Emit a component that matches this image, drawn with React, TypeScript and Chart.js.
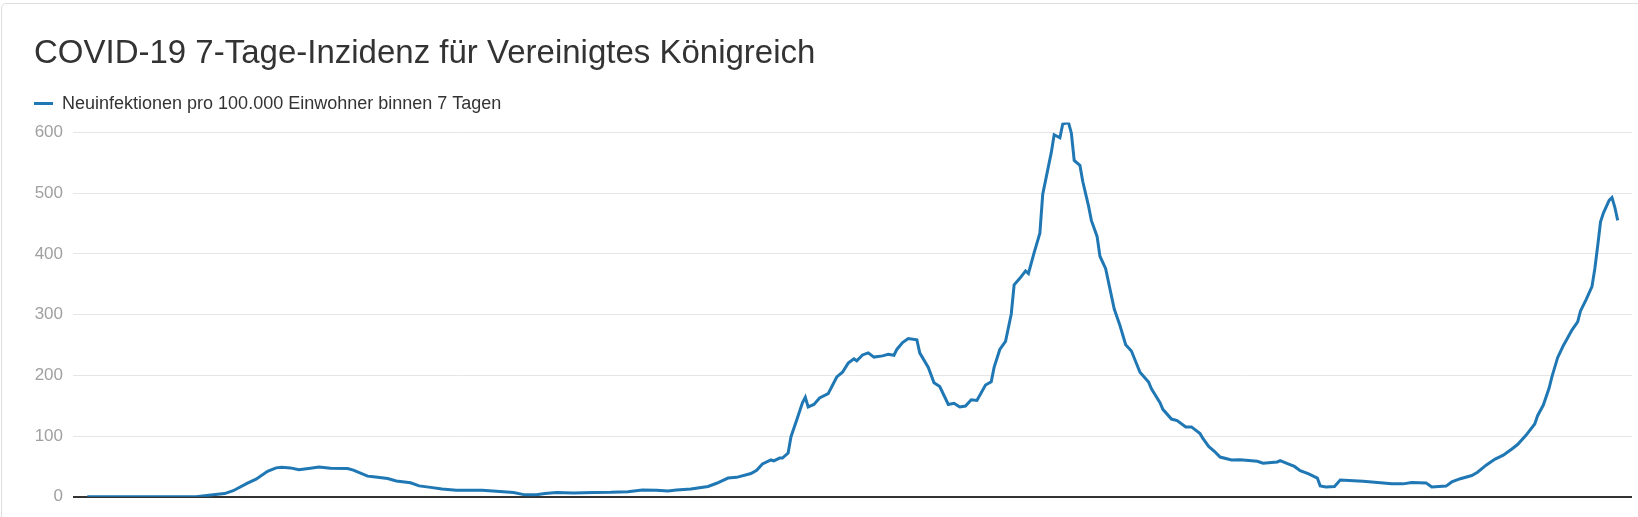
import React, { useEffect, useRef } from "react";
import { Chart, registerables } from "chart.js";

Chart.register(...registerables);

const titleText = "COVID-19 7-Tage-Inzidenz für Vereinigtes Königreich";
const seriesLabel = "Neuinfektionen pro 100.000 Einwohner binnen 7 Tagen";

// Tage seit Beginn der Zeitreihe
const tage = [
  0, 38, 44, 48, 51, 56, 59, 63, 66, 68, 71, 74, 78, 81, 85, 91, 93, 98, 100, 105,
  108, 113, 116, 120, 124, 129, 138, 143, 149, 153, 157, 160, 164, 170, 177, 183, 189, 194, 199, 203,
  206, 211, 217, 220, 224, 227, 232, 234, 236, 239, 240, 242, 243, 245, 246, 248, 250, 251, 252, 254,
  256, 259, 262, 264, 266, 268, 269, 271, 273, 275, 278, 280, 282, 283, 285, 287, 290, 291, 294, 296,
  298, 301, 303, 305, 307, 309, 311, 314, 316, 317, 319, 321, 323, 324, 326, 328, 329, 331, 333, 334,
  337, 338, 340, 341, 343, 344, 345, 347, 348, 350, 351, 353, 354, 356, 359, 361, 363, 365, 368, 371,
  372, 375, 376, 379, 381, 384, 386, 389, 390, 392, 394, 396, 400, 403, 409, 411, 416, 417, 420, 422,
  424, 427, 430, 431, 433, 436, 438, 446, 456, 460, 463, 468, 470, 475, 477, 480, 484, 486, 489, 492,
  495, 498, 500, 503, 506, 507, 509, 511, 512, 514, 516, 517, 519, 521, 522, 524, 526, 527, 528, 529,
  530, 532, 533, 534, 535,
];

// 7-Tage-Inzidenz
const inzidenz = [
  0, 0, 3.2, 5.3, 10, 22.5, 29, 42, 47.6, 48.7, 47.6, 44.4, 47, 49.2, 47, 46.5, 43.9, 34, 33, 30,
  26, 23, 18, 15.5, 12.8, 10.7, 10.7, 9, 7, 3.2, 3.2, 5.3, 7, 6.4, 7, 7.4, 8.5, 11, 10.6, 9.6,
  11, 12.8, 17, 22.3, 30.9, 32, 38.3, 43.6, 54, 60.6, 59, 63.8, 63.8, 72, 99, 126.6, 154.8, 163.8, 147.9, 152,
  162.8, 169.7, 197.3, 205, 220, 227, 224, 233.5, 237, 230, 232, 234.6, 233, 242.6, 254, 260.6, 258.5, 237, 213, 187.8,
  181.4, 152, 154, 147.9, 149.5, 159.6, 158.5, 184, 189.4, 213, 242.6, 255.9, 301, 349, 359.6, 371.8, 367.6, 402, 434, 498,
  567, 596, 591, 613.8, 616, 599, 553.7, 545.7, 519, 479, 455, 428.7, 396, 375.5, 309, 282, 250.5, 240, 205, 189,
  177.7, 154.8, 144, 128, 125.5, 115, 115, 104, 96, 83, 75, 65.4, 60.6, 61, 58.5, 55.3, 57.4, 59.6, 53.7, 50,
  43, 37.8, 30.9, 18, 16, 17, 27.7, 25.5, 21.3, 21.3, 23.4, 22.9, 16, 17.6, 24.5, 29.8, 35, 40.4, 52, 61.7,
  68.6, 78.7, 86, 101.6, 120, 133.5, 151, 178.7, 197.3, 229, 249, 257.4, 274.5, 287.8, 306, 325, 346, 375.5, 412.8, 452.7,
  467, 488, 492.6, 476.6, 455,
];

const yTickValues = [0, 100, 200, 300, 400, 500, 600];

const FONT = "'Liberation Sans', Arial, Helvetica, sans-serif";
const LINE_COLOR = "#1f77b4";

export default function App() {
  const canvasRef = useRef<HTMLCanvasElement | null>(null);

  useEffect(() => {
    if (!canvasRef.current) return;
    Chart.defaults.font.family = FONT;
    const chart = new Chart(canvasRef.current, {
      type: "line",
      data: {
        datasets: [
          {
            label: seriesLabel,
            data: tage.map((t, i) => ({ x: t, y: inzidenz[i] })),
            borderColor: LINE_COLOR,
            backgroundColor: LINE_COLOR,
            borderWidth: 3,
            pointRadius: 0,
            pointHoverRadius: 0,
            tension: 0,
            fill: false,
          },
        ],
      },
      options: {
        animation: false,
        responsive: true,
        maintainAspectRatio: false,
        layout: { padding: { left: 34, right: 6, top: 0, bottom: 8 } },
        plugins: {
          title: {
            display: true,
            text: titleText,
            align: "start",
            color: "#333333",
            font: { size: 33, weight: "normal", family: FONT },
            padding: { top: 34, bottom: 21 },
          },
          legend: {
            display: true,
            align: "start",
            labels: {
              usePointStyle: true,
              pointStyle: "line",
              pointStyleWidth: 19,
              padding: 0,
              color: "#333333",
              font: { size: 18, family: FONT },
            },
          },
          tooltip: { enabled: false },
        },
        scales: {
          x: {
            type: "linear",
            min: -5,
            max: 540,
            display: false,
          },
          y: {
            type: "linear",
            min: 0,
            max: Math.max(...inzidenz),
            afterBuildTicks: (scale: any) => {
              scale.ticks = yTickValues.map((v) => ({ value: v }));
            },
            afterFit: (scale: any) => {
              scale.width = 39;
            },
            border: { display: false },
            grid: {
              drawTicks: false,
              color: (ctx: any) => (ctx.tick && ctx.tick.value === 0 ? "#333333" : "#e6e6e6"),
              lineWidth: (ctx: any) => (ctx.tick && ctx.tick.value === 0 ? 2 : 1),
            },
            ticks: {
              color: "#a0a0a0",
              padding: 10,
              font: { size: 17, family: FONT },
            },
          },
        },
      },
    });
    return () => chart.destroy();
  }, []);

  return (
    <div style={{ position: "fixed", left: 0, top: 0, width: 1638, height: 517, overflow: "hidden", background: "#ffffff" }}>
      <div
        style={{
          position: "absolute",
          left: 1,
          top: 3,
          width: 1700,
          height: 600,
          border: "1px solid #dedede",
          borderRadius: 5,
          boxSizing: "border-box",
        }}
      />
      <div style={{ position: "absolute", left: 0, top: 0, width: 1638, height: 517 }}>
        <canvas ref={canvasRef} style={{ display: "block" }} />
      </div>
    </div>
  );
}
